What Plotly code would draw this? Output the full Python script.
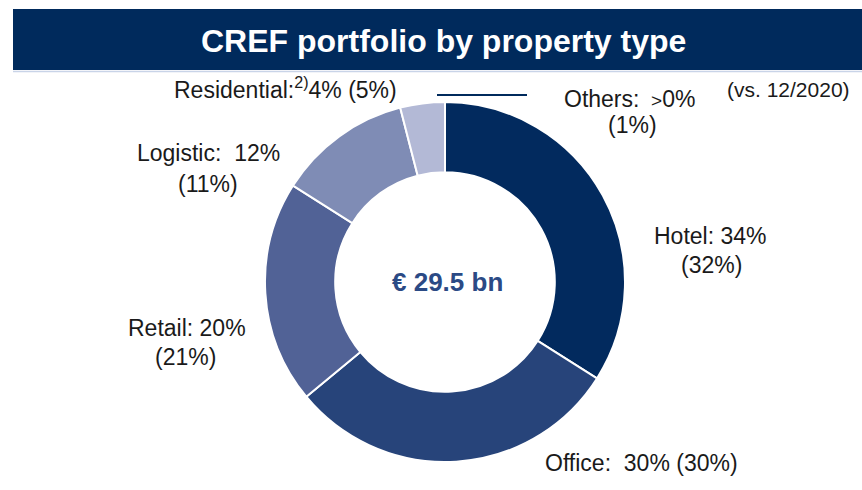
import plotly.graph_objects as go

W, H = 862, 490

categories = ["Hotel", "Office", "Retail", "Logistic", "Residential"]
shares_2021 = [34, 30, 20, 12, 4]
shares_2020 = [32, 30, 21, 11, 5]
colors = ["#022a5e", "#27447a", "#516296", "#7f8cb5", "#b3b9d6"]
total_label = "€ 29.5 bn"
title = "CREF portfolio by property type"

def px(x):
    return x / W

def py(y):
    return 1 - y / H

fig = go.Figure()
fig.add_trace(go.Pie(
    labels=categories,
    values=shares_2021,
    marker=dict(colors=colors, line=dict(color="white", width=2)),
    hole=0.61,
    sort=False,
    direction="clockwise",
    rotation=0,
    textinfo="none",
    hoverinfo="skip",
    showlegend=False,
    domain=dict(x=[px(265), px(625)], y=[py(462), py(102)]),
))

FAM = "Arial, Liberation Sans, sans-serif"
ann = []

def add(text, x, y, size=23, xanchor="center", color="#1a1a1a"):
    f = dict(family=FAM, size=size, color=color)
    ann.append(dict(text=text, x=px(x), y=py(y), xref="paper", yref="paper",
                    xanchor=xanchor, yanchor="middle", showarrow=False, font=f))

# Title
ann.append(dict(text="<b>" + title + "</b>", x=px(443), y=py(41), xref="paper", yref="paper",
                xanchor="center", yanchor="middle", showarrow=False,
                font=dict(family=FAM, size=32, color="white")))

# Center
ann.append(dict(text="<b>" + total_label + "</b>", x=px(447), y=py(282), xref="paper", yref="paper",
                xanchor="center", yanchor="middle", showarrow=False,
                font=dict(family=FAM, size=26, color="#2b4a85")))

# Labels
add(f"{categories[0]}: {shares_2021[0]}%", 710, 236)
add(f"({shares_2020[0]}%)", 711, 265)
add(f"{categories[1]}:  {shares_2021[1]}% ({shares_2020[1]}%)", 543, 463, xanchor="left")
add(f"{categories[2]}: {shares_2021[2]}%", 187, 328)
add(f"({shares_2020[2]}%)", 185, 357)
add(f"{categories[3]}:  {shares_2021[3]}%", 135, 153, xanchor="left")
add(f"({shares_2020[3]}%)", 208, 184)
add(f"{categories[4]}:<sup>2)</sup>{shares_2021[4]}% ({shares_2020[4]}%)", 172, 88, xanchor="left")
add("Others: <span style='font-size:19px'> ></span>0%", 562, 99, xanchor="left")
add("(1%)", 632, 125)
add("(vs. 12/2020)", 725, 90, size=21, xanchor="left")

shapes = [
    dict(type="rect", xref="paper", yref="paper", x0=px(13), x1=1.0, y0=py(70), y1=py(9),
         fillcolor="#002a5c", line=dict(width=0), layer="below"),
    dict(type="line", xref="paper", yref="paper", x0=px(13), x1=1.0, y0=py(71.5), y1=py(71.5),
         line=dict(color="#c9d4e8", width=1.5)),
    dict(type="line", xref="paper", yref="paper", x0=px(437), x1=px(527), y0=py(95), y1=py(95),
         line=dict(color="#002a5c", width=2)),
]

fig.update_layout(
    width=W, height=H,
    margin=dict(l=0, r=0, t=0, b=0),
    paper_bgcolor="white", plot_bgcolor="white",
    annotations=ann, shapes=shapes,
    font=dict(family=FAM, size=23, color="#1a1a1a"),
)

fig.write_html("out.html", config={"displayModeBar": False},
               post_script="document.body.style.margin='0';document.body.style.overflow='hidden';")
